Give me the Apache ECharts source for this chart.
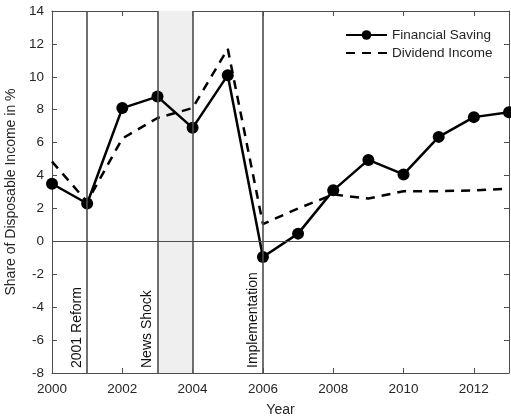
<!DOCTYPE html>
<html>
<head>
<meta charset="utf-8">
<script src="https://cdn.jsdelivr.net/npm/echarts@6/dist/echarts.min.js"></script>
<style>
  html, body { margin: 0; padding: 0; background: #fff; overflow: hidden; }
  #chart { width: 511px; height: 419px; }
</style>
</head>
<body>
<div id="chart"></div>
<script>
// years on the x axis
const years = [2000, 2001, 2002, 2003, 2004, 2005, 2006, 2007, 2008, 2009, 2010, 2011, 2012, 2013];
// share of disposable income, %
const financialSaving = [3.5, 2.3, 8.1, 8.8, 6.9, 10.1, -0.95, 0.47, 3.1, 4.95, 4.07, 6.35, 7.55, 7.85];
const dividendIncome = [4.85, 2.4, 6.25, 7.5, 8.1, 11.7, 1.05, 2.0, 2.85, 2.6, 3.05, 3.05, 3.1, 3.2];
// event markers
const events = [
  { year: 2001, label: "2001 Reform" },
  { year: 2003, label: "News Shock" },
  { year: 2004, label: "" },
  { year: 2006, label: "Implementation" }
];
const shadedSpan = [2003, 2004];

const axisColor = "#4d4d4d";
const textColor = "#262626";
const font = "Liberation Sans, Arial, sans-serif";

const chart = echarts.init(document.getElementById("chart"));

const xyPairs = vals => years.map((y, i) => [y, vals[i]]);

const tickAxisCommon = {
  axisLine: { show: true, onZero: false, lineStyle: { color: axisColor, width: 1 } },
  axisTick: { show: true, inside: true, length: 5, lineStyle: { color: axisColor } },
  splitLine: { show: false }
};

const options = {
  animation: false,
  textStyle: { fontFamily: font },
  grid: { left: 52, right: 2, top: 11, bottom: 46, outerBoundsMode: "none", containLabel: false },
  legend: {
    orient: "vertical",
    left: 340,
    top: 23,
    itemWidth: 41,
    itemHeight: 12,
    itemGap: 4,
    textStyle: { fontSize: 13.5, color: textColor, fontFamily: font },
    data: [
      { name: "Financial Saving" },
      { name: "Dividend Income", itemStyle: { color: "rgba(0,0,0,0)", opacity: 0 } }
    ]
  },
  xAxis: [
    Object.assign({
      type: "value",
      min: 2000, max: 2013, interval: 2,
      name: "Year",
      nameLocation: "middle",
      nameGap: 30,
      nameTextStyle: { fontSize: 14, color: textColor },
      axisLabel: { fontSize: 13.5, color: textColor, margin: 9, showMaxLabel: false, formatter: v => String(v) }
    }, tickAxisCommon),
    Object.assign({
      type: "value", position: "top",
      min: 2000, max: 2013, interval: 2,
      axisLabel: { show: false }
    }, tickAxisCommon)
  ],
  yAxis: [
    Object.assign({
      type: "value",
      min: -8, max: 14, interval: 2,
      name: "Share of Disposable Income in %",
      nameLocation: "middle",
      nameGap: 31,
      nameTextStyle: { fontSize: 14, color: textColor },
      axisLabel: { fontSize: 13.5, color: textColor, margin: 8 }
    }, tickAxisCommon),
    Object.assign({
      type: "value", position: "right",
      min: -8, max: 14, interval: 2,
      axisLabel: { show: false }
    }, tickAxisCommon)
  ],
  series: [
    {
      name: "events",
      type: "line",
      data: [],
      silent: true,
      z: 1,
      markArea: {
        silent: true,
        itemStyle: { color: "#efefef" },
        data: [[{ xAxis: shadedSpan[0] }, { xAxis: shadedSpan[1] }]]
      },
      markLine: {
        silent: true,
        symbol: "none",
        lineStyle: { color: "#4d4d4d", width: 1.6, type: "solid" },
        label: {
          show: true,
          position: "insideStartTop",
          distance: [5, 3],
          fontSize: 14,
          color: "#111",
          fontFamily: font,
          formatter: p => p.name
        },
        data: events.map(e => ({ xAxis: e.year, name: e.label }))
          .concat([{ yAxis: 0, name: "", lineStyle: { width: 1.2 }, label: { show: false } }])
      }
    },
    {
      name: "Dividend Income",
      type: "line",
      data: xyPairs(dividendIncome),
      showSymbol: false,
      symbol: "none",
      z: 3,
      lineStyle: { color: "#000", width: 2.5, type: [9, 7] },
      itemStyle: { color: "#000" }
    },
    {
      name: "Financial Saving",
      type: "line",
      data: xyPairs(financialSaving),
      symbol: "circle",
      symbolSize: 12,
      z: 4,
      lineStyle: { color: "#000", width: 2.5 },
      itemStyle: { color: "#000" }
    }
  ]
};

chart.setOption(options);
</script>
</body>
</html>
